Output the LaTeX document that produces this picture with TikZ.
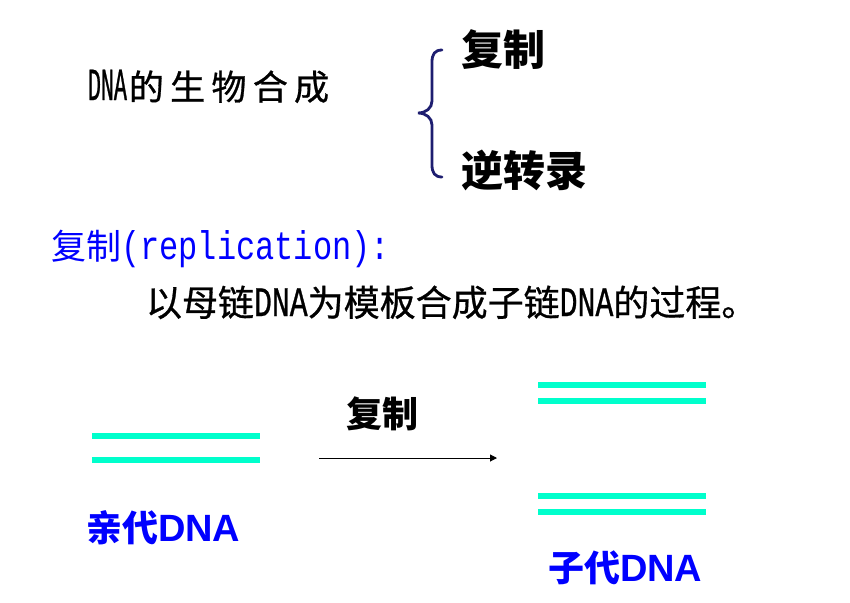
\documentclass[tikz,border=0pt]{standalone}
\usepackage{fontspec}
\newfontfamily\cjk{Noto Sans CJK SC}
\newfontfamily\cjkdark[FakeBold=0.8]{Noto Sans CJK SC}
\newfontfamily\cjkwide[LetterSpace=18,FakeBold=0.8]{Noto Sans CJK SC}
\newfontfamily\narrowtt[FakeStretch=0.8]{Liberation Mono}
\newfontfamily\slimtt[FakeStretch=0.71,FakeBold=0.6]{Liberation Mono}
\newfontfamily\thintt[FakeStretch=0.47,FakeBold=0.6]{Liberation Mono}
\newfontfamily\arialbf[UprightFont=*,BoldFont=*]{Liberation Sans Bold}
\usetikzlibrary{arrows.meta}

\definecolor{strandcol}{HTML}{00FFCC}
\definecolor{bracecol}{HTML}{1E1E70}
\definecolor{lblblue}{HTML}{0000FF}

\begin{document}
\begin{tikzpicture}[
    x=1pt, y=-1pt,
    txt/.style={anchor=base west, inner sep=0pt, outer sep=0pt},
    head/.style={txt, font=\cjk\bfseries\fontsize{42}{48}\selectfont},
    dnalbl/.style={txt, text=lblblue, font=\cjk\bfseries\fontsize{36}{42}\selectfont},
    strand/.style={draw=strandcol, line width=6pt},
    brace/.style={draw=bracecol, line width=2.8pt, line cap=round},
    arr/.style={draw, line width=1pt, -{Triangle[length=7pt,width=7pt]}},
]
\useasboundingbox (0,0) rectangle (850,602);

% =========================================================
% Top: biosynthesis of DNA, two branches
% =========================================================
\node[txt] (biosyn) at (88,100)
    {{\thintt\fontsize{46}{48}\selectfont DNA}\hspace{2pt}{\cjkwide\fontsize{35}{40}\selectfont 的生物合成}};

\draw[brace] (442,50) .. controls (435,50) and (432,54) .. (432,62)
    -- (432,101) .. controls (432,108) and (426,113) .. (418,113)
    .. controls (426,113) and (432,118) .. (432,125)
    -- (432,165) .. controls (432,173) and (435,177) .. (442,177);

\node[head] (repl) at (461,65) {复制};
\node[head] (revt) at (461,186) {逆转录};

% =========================================================
% Middle: definition
% =========================================================
\node[txt, text=lblblue] (defhead) at (51,259)
    {{\cjk\fontsize{35}{40}\selectfont 复制}{\narrowtt\fontsize{40}{44}\selectfont (replication):}};
\node[txt] (defbody) at (146,316)
    {\fontsize{36}{42}\selectfont\cjkdark 以母链{\slimtt\fontsize{42}{44}\selectfont DNA}为模板合成子链{\slimtt\fontsize{42}{44}\selectfont DNA}的过程。};

% =========================================================
% Bottom: parent -> daughter strands
% =========================================================
% parent duplex
\coordinate (pa1) at (92,436);  \coordinate (pb1) at (260,436);
\coordinate (pa2) at (92,460);  \coordinate (pb2) at (260,460);
\draw[strand] (pa1) -- (pb1);
\draw[strand] (pa2) -- (pb2);
\node[dnalbl] (parent) at (86,541) {亲代{\arialbf\fontsize{38}{42}\selectfont DNA}};

% arrow
\coordinate (arrS) at (319,458);
\coordinate (arrE) at (497,458);
\draw[arr] (arrS) -- (arrE);
\node[txt, font=\cjk\bfseries\fontsize{36}{42}\selectfont] (arrlbl) at (346,427) {复制};

% daughter duplexes
\coordinate (da1) at (538,385); \coordinate (db1) at (706,385);
\coordinate (da2) at (538,401); \coordinate (db2) at (706,401);
\coordinate (da3) at (538,496); \coordinate (db3) at (706,496);
\coordinate (da4) at (538,512); \coordinate (db4) at (706,512);
\draw[strand] (da1) -- (db1);
\draw[strand] (da2) -- (db2);
\draw[strand] (da3) -- (db3);
\draw[strand] (da4) -- (db4);
\node[dnalbl] (daughter) at (548,581) {子代{\arialbf\fontsize{38}{42}\selectfont DNA}};

\end{tikzpicture}
\end{document}
